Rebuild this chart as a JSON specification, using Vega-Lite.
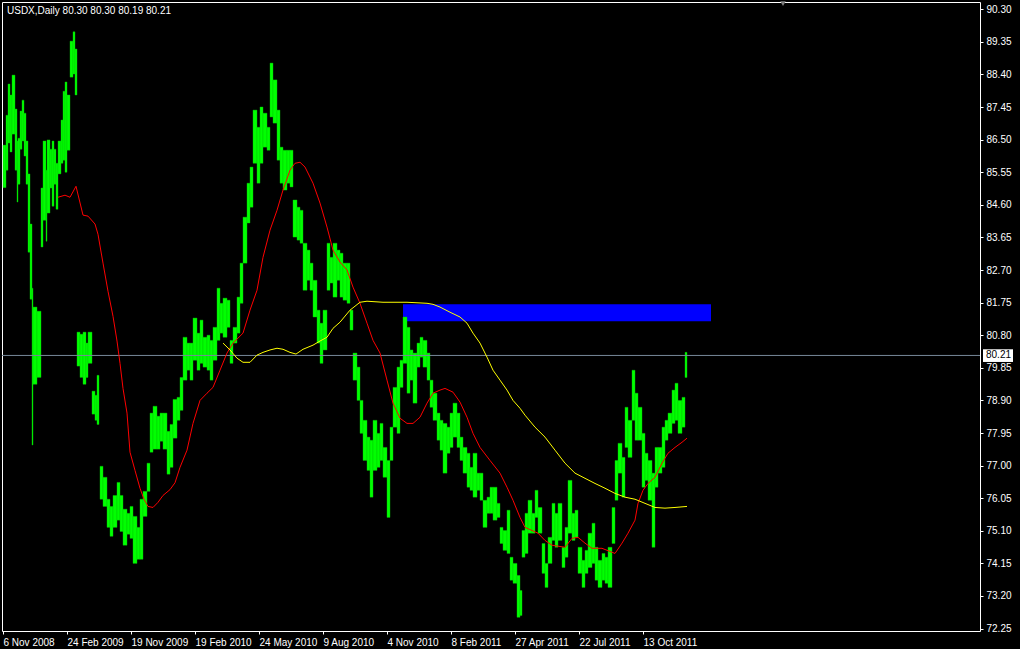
{
  "$schema": "https://vega.github.io/schema/vega-lite/v6.json",
  "autosize": {"type": "none"},
  "width": 978,
  "height": 629,
  "padding": {"left": 2, "top": 2, "right": 40, "bottom": 18},
  "background": "#000000",
  "config": {
    "view": {"stroke": "#ffffff", "strokeWidth": 1, "fill": "#000000"},
    "font": "Liberation Sans",
    "axis": {
      "labelOverlap": false, "labelFlush": false, "labelBound": false,
      "labelColor": "#ffffff", "labelFontSize": 10, "labelFont": "Liberation Sans",
      "tickColor": "#ffffff", "tickSize": 3, "tickWidth": 1,
      "domain": false, "grid": false, "title": null, "labelPadding": 3
    },
    "axisX": {"labelAlign": "left", "labelBaseline": "top"},
    "axisY": {"labelAlign": "left", "labelBaseline": "middle"}
  },
  "datasets": {
    "bars": [
      {"start":3,"end":6,"low":85.1,"high":86.34},{"start":6,"end":8,"low":85.61,"high":87.21},{"start":8,"end":10,"low":86.40,"high":88.12},{"start":10,"end":12,"low":86.14,"high":87.80},{"start":12,"end":15,"low":86.66,"high":88.38},{"start":15,"end":17,"low":85.61,"high":87.39},{"start":17,"end":18,"low":84.68,"high":86.46},{"start":18,"end":20,"low":85.20,"high":86.54},{"start":20,"end":22,"low":86.22,"high":87.33},{"start":22,"end":24,"low":86.46,"high":87.65},{"start":24,"end":26,"low":86.02,"high":87.27},{"start":26,"end":28,"low":85.20,"high":86.46},{"start":28,"end":30,"low":83.22,"high":85.50},{"start":30,"end":32,"low":81.85,"high":84.04},{"start":32,"end":33,"low":77.6,"high":82.17},{"start":33,"end":37,"low":79.37,"high":81.62},{"start":37,"end":41,"low":79.57,"high":81.50},{"start":41,"end":43,"low":83.37,"high":85.09},{"start":43,"end":46,"low":84.15,"high":86.46},{"start":46,"end":47,"low":83.54,"high":85.61},{"start":47,"end":50,"low":84.36,"high":86.49},{"start":50,"end":52,"low":85.09,"high":86.22},{"start":52,"end":54,"low":84.56,"high":86.46},{"start":54,"end":56,"low":85.20,"high":86.22},{"start":56,"end":58,"low":84.47,"high":85.81},{"start":58,"end":61,"low":85.50,"high":86.46},{"start":61,"end":63,"low":85.81,"high":87.07},{"start":63,"end":65,"low":85.90,"high":87.91},{"start":65,"end":67,"low":85.55,"high":88.18},{"start":67,"end":70,"low":86.19,"high":87.80},{"start":70,"end":73,"low":88.32,"high":89.37},{"start":73,"end":75,"low":88.41,"high":89.64},{"start":75,"end":77,"low":87.80,"high":89.14},
      {"start":77,"end":80,"low":79.90,"high":80.89},{"start":80,"end":83,"low":79.57,"high":80.83},{"start":83,"end":86,"low":79.37,"high":80.89},{"start":86,"end":88,"low":79.57,"high":80.57},{"start":88,"end":92,"low":79.98,"high":80.89},{"start":92,"end":95,"low":78.50,"high":79.17},{"start":95,"end":97,"low":78.32,"high":79.05},{"start":97,"end":99,"low":78.20,"high":79.63},
      {"start":100,"end":103,"low":76.02,"high":76.98},{"start":103,"end":107,"low":75.81,"high":76.66},{"start":107,"end":110,"low":75.20,"high":76.02},{"start":110,"end":113,"low":74.94,"high":75.81},{"start":113,"end":117,"low":75.20,"high":76.13},{"start":117,"end":120,"low":75.41,"high":76.51},{"start":120,"end":123,"low":75.08,"high":76.13},{"start":123,"end":127,"low":74.68,"high":75.73},{"start":127,"end":130,"low":75.00,"high":75.61},{"start":130,"end":133,"low":74.88,"high":75.81},{"start":133,"end":137,"low":74.15,"high":75.52},{"start":137,"end":140,"low":74.27,"high":75.20},{"start":140,"end":143,"low":74.27,"high":76.02},{"start":143,"end":147,"low":75.52,"high":76.25},{"start":147,"end":150,"low":76.25,"high":77.07},{"start":150,"end":153,"low":77.39,"high":78.53},{"start":153,"end":157,"low":77.48,"high":78.73},{"start":157,"end":160,"low":77.48,"high":78.44},{"start":160,"end":163,"low":77.71,"high":78.53},{"start":163,"end":167,"low":77.48,"high":78.53},{"start":167,"end":170,"low":76.75,"high":78.00},{"start":170,"end":173,"low":76.95,"high":78.20},{"start":173,"end":177,"low":77.80,"high":78.93},{"start":177,"end":180,"low":78.32,"high":78.99},{"start":180,"end":183,"low":78.61,"high":79.57},{"start":183,"end":187,"low":79.49,"high":80.74},{"start":187,"end":190,"low":79.78,"high":80.57},{"start":190,"end":193,"low":79.49,"high":80.57},{"start":193,"end":197,"low":80.07,"high":81.30},{"start":197,"end":200,"low":79.78,"high":80.86},{"start":200,"end":203,"low":79.98,"high":81.24},{"start":203,"end":207,"low":79.87,"high":80.74},{"start":207,"end":210,"low":79.78,"high":80.80},{"start":210,"end":213,"low":79.49,"high":80.65},{"start":213,"end":217,"low":80.07,"high":81.03},{"start":217,"end":220,"low":80.65,"high":82.17},{"start":220,"end":223,"low":80.86,"high":81.73},{"start":223,"end":227,"low":80.74,"high":81.88},{"start":227,"end":230,"low":81.03,"high":81.82},{"start":230,"end":233,"low":79.98,"high":80.65},{"start":233,"end":237,"low":80.57,"high":81.03},{"start":237,"end":240,"low":80.86,"high":81.91},{"start":240,"end":243,"low":81.73,"high":82.90},{"start":243,"end":247,"low":82.90,"high":84.24},{"start":247,"end":250,"low":84.07,"high":85.23},{"start":250,"end":253,"low":84.53,"high":85.70},{"start":253,"end":257,"low":85.81,"high":87.36},{"start":257,"end":260,"low":85.23,"high":86.86},{"start":260,"end":263,"low":85.81,"high":87.45},{"start":263,"end":267,"low":86.28,"high":87.27},{"start":267,"end":270,"low":86.19,"high":86.86},{"start":270,"end":273,"low":87.16,"high":88.73},{"start":273,"end":277,"low":86.98,"high":88.24},{"start":277,"end":280,"low":85.90,"high":87.36},{"start":280,"end":283,"low":85.23,"high":86.28},{"start":283,"end":287,"low":85.03,"high":86.19},{"start":287,"end":290,"low":85.23,"high":86.19},{"start":290,"end":293,"low":85.12,"high":86.19},{"start":293,"end":297,"low":83.66,"high":84.74},{"start":297,"end":300,"low":83.57,"high":84.53},{"start":300,"end":303,"low":83.48,"high":84.44},{"start":303,"end":307,"low":82.11,"high":83.48},{"start":307,"end":310,"low":82.40,"high":83.28},{"start":310,"end":313,"low":82.11,"high":82.90},{"start":313,"end":317,"low":81.33,"high":82.40},{"start":317,"end":320,"low":80.57,"high":81.53},{"start":320,"end":323,"low":79.98,"high":81.15},{"start":323,"end":327,"low":80.37,"high":81.53},{"start":327,"end":330,"low":82.11,"high":83.48},{"start":330,"end":333,"low":82.32,"high":83.07},{"start":333,"end":337,"low":81.91,"high":83.48},{"start":337,"end":340,"low":82.40,"high":83.28},{"start":340,"end":343,"low":81.91,"high":83.19},{"start":343,"end":347,"low":81.82,"high":82.90},{"start":347,"end":350,"low":81.73,"high":82.90},{"start":350,"end":353,"low":80.95,"high":81.53},{"start":353,"end":357,"low":79.49,"high":80.28},{"start":357,"end":360,"low":78.90,"high":79.87},{"start":360,"end":363,"low":77.94,"high":78.90},{"start":363,"end":367,"low":77.15,"high":78.32},{"start":367,"end":370,"low":76.86,"high":77.83},{"start":370,"end":373,"low":76.08,"high":77.74},{"start":373,"end":377,"low":76.86,"high":78.32},{"start":377,"end":380,"low":76.95,"high":77.94},{"start":380,"end":383,"low":77.15,"high":78.23},{"start":383,"end":387,"low":76.66,"high":77.53},{"start":387,"end":390,"low":75.49,"high":77.15},{"start":390,"end":393,"low":77.15,"high":78.12},{"start":393,"end":397,"low":78.12,"high":79.28},{"start":397,"end":400,"low":77.94,"high":79.87},{"start":400,"end":403,"low":79.28,"high":80.07},{"start":403,"end":407,"low":79.98,"high":81.33},{"start":407,"end":410,"low":79.11,"high":81.03},{"start":410,"end":413,"low":79.49,"high":80.37},{"start":413,"end":417,"low":78.82,"high":80.28},{"start":417,"end":420,"low":79.87,"high":80.57},{"start":420,"end":423,"low":80.16,"high":80.74},{"start":423,"end":427,"low":79.87,"high":80.65},{"start":427,"end":430,"low":79.49,"high":80.28},{"start":430,"end":433,"low":78.70,"high":79.49},{"start":433,"end":437,"low":78.32,"high":79.11},{"start":437,"end":440,"low":77.74,"high":78.53},{"start":440,"end":443,"low":77.45,"high":78.32},{"start":443,"end":447,"low":76.78,"high":78.23},{"start":447,"end":450,"low":77.36,"high":78.12},{"start":450,"end":453,"low":77.53,"high":78.53},{"start":453,"end":457,"low":77.83,"high":78.82},{"start":457,"end":460,"low":77.53,"high":78.53},{"start":460,"end":463,"low":77.15,"high":77.83},{"start":463,"end":467,"low":76.78,"high":77.53},{"start":467,"end":470,"low":76.37,"high":77.36},{"start":470,"end":473,"low":76.28,"high":76.95},{"start":473,"end":477,"low":76.08,"high":77.36},{"start":477,"end":480,"low":76.28,"high":76.78},{"start":480,"end":483,"low":75.99,"high":76.78},{"start":483,"end":487,"low":75.20,"high":75.99},{"start":487,"end":490,"low":75.61,"high":76.08},{"start":490,"end":493,"low":75.61,"high":76.37},{"start":493,"end":497,"low":75.41,"high":76.37},{"start":497,"end":500,"low":75.49,"high":75.90},{"start":500,"end":503,"low":74.73,"high":75.20},{"start":503,"end":507,"low":74.53,"high":75.11},{"start":507,"end":510,"low":74.44,"high":75.70},{"start":510,"end":513,"low":73.66,"high":74.33},{"start":513,"end":517,"low":73.57,"high":74.15},{"start":517,"end":520,"low":72.58,"high":73.80},{"start":520,"end":522,"low":72.63,"high":73.36},{"start":522,"end":525,"low":74.33,"high":75.11},{"start":525,"end":528,"low":74.44,"high":75.61},{"start":528,"end":532,"low":75.03,"high":75.99},{"start":532,"end":535,"low":75.03,"high":75.61},{"start":535,"end":538,"low":75.49,"high":76.28},{"start":538,"end":542,"low":75.03,"high":75.78},{"start":542,"end":545,"low":73.86,"high":74.73},{"start":545,"end":548,"low":73.45,"high":74.15},{"start":548,"end":552,"low":74.15,"high":74.91},{"start":552,"end":555,"low":74.82,"high":75.90},{"start":555,"end":558,"low":74.62,"high":75.61},{"start":558,"end":562,"low":74.82,"high":75.90},{"start":562,"end":565,"low":74.03,"high":74.62},{"start":565,"end":568,"low":74.33,"high":75.20},{"start":568,"end":572,"low":75.03,"high":76.57},{"start":572,"end":575,"low":74.82,"high":75.61},{"start":575,"end":578,"low":74.91,"high":75.70},{"start":578,"end":582,"low":73.86,"high":74.62},{"start":582,"end":585,"low":73.45,"high":74.24},{"start":585,"end":588,"low":73.86,"high":74.53},{"start":588,"end":592,"low":74.03,"high":75.03},{"start":592,"end":595,"low":74.15,"high":75.32},{"start":595,"end":598,"low":73.66,"high":74.62},{"start":598,"end":602,"low":73.45,"high":74.24},{"start":602,"end":605,"low":73.66,"high":74.44},{"start":605,"end":608,"low":73.57,"high":74.33},{"start":608,"end":612,"low":73.45,"high":74.62},{"start":612,"end":615,"low":74.73,"high":75.78},{"start":615,"end":618,"low":75.99,"high":77.15},{"start":618,"end":622,"low":76.78,"high":77.65},{"start":622,"end":625,"low":76.08,"high":77.24},{"start":625,"end":628,"low":77.53,"high":78.70},{"start":628,"end":632,"low":77.24,"high":78.32},{"start":632,"end":635,"low":78.32,"high":79.78},{"start":635,"end":638,"low":77.74,"high":79.11},{"start":638,"end":642,"low":77.74,"high":78.70},{"start":642,"end":645,"low":76.37,"high":77.94},{"start":645,"end":648,"low":76.57,"high":77.36},{"start":648,"end":652,"low":75.99,"high":77.15},{"start":652,"end":655,"low":74.62,"high":76.78},{"start":655,"end":658,"low":76.37,"high":77.53},{"start":658,"end":662,"low":76.78,"high":77.53},{"start":662,"end":665,"low":76.95,"high":78.12},{"start":665,"end":668,"low":77.74,"high":78.32},{"start":668,"end":672,"low":77.94,"high":78.53},{"start":672,"end":675,"low":78.23,"high":79.20},{"start":675,"end":678,"low":78.32,"high":79.40},{"start":678,"end":682,"low":77.94,"high":78.90},{"start":682,"end":685,"low":78.12,"high":78.99},{"start":685,"end":687,"low":79.57,"high":80.30}
    ],
    "red": [
      {"bar":58,"ma":84.82},{"bar":65,"ma":84.88},{"bar":70,"ma":84.82},{"bar":76,"ma":85.14},{"bar":83,"ma":84.30},{"bar":88,"ma":84.27},{"bar":95,"ma":84.04},{"bar":98,"ma":83.74},{"bar":103,"ma":82.90},{"bar":108,"ma":82.08},{"bar":113,"ma":81.35},{"bar":117,"ma":80.63},{"bar":120,"ma":79.98},{"bar":123,"ma":79.25},{"bar":127,"ma":78.53},{"bar":130,"ma":77.39},{"bar":135,"ma":76.86},{"bar":140,"ma":76.34},{"bar":144,"ma":76.02},{"bar":148,"ma":75.81},{"bar":153,"ma":75.78},{"bar":158,"ma":75.93},{"bar":163,"ma":76.13},{"bar":170,"ma":76.30},{"bar":175,"ma":76.50},{"bar":180,"ma":76.95},{"bar":187,"ma":77.45},{"bar":193,"ma":78.23},{"bar":200,"ma":78.90},{"bar":207,"ma":79.11},{"bar":213,"ma":79.28},{"bar":220,"ma":79.78},{"bar":227,"ma":80.28},{"bar":233,"ma":80.57},{"bar":243,"ma":80.86},{"bar":250,"ma":81.53},{"bar":257,"ma":82.11},{"bar":263,"ma":83.07},{"bar":270,"ma":83.86},{"bar":277,"ma":84.44},{"bar":283,"ma":85.03},{"bar":290,"ma":85.61},{"bar":295,"ma":85.81},{"bar":300,"ma":85.84},{"bar":305,"ma":85.70},{"bar":313,"ma":85.23},{"bar":320,"ma":84.65},{"bar":327,"ma":83.95},{"bar":333,"ma":83.28},{"bar":340,"ma":82.93},{"bar":347,"ma":82.70},{"bar":353,"ma":82.20},{"bar":360,"ma":81.73},{"bar":367,"ma":81.15},{"bar":373,"ma":80.65},{"bar":380,"ma":80.28},{"bar":387,"ma":79.49},{"bar":393,"ma":78.82},{"bar":400,"ma":78.38},{"bar":407,"ma":78.23},{"bar":413,"ma":78.23},{"bar":420,"ma":78.41},{"bar":427,"ma":78.82},{"bar":433,"ma":79.11},{"bar":440,"ma":79.20},{"bar":445,"ma":79.25},{"bar":453,"ma":79.14},{"bar":460,"ma":78.85},{"bar":467,"ma":78.41},{"bar":473,"ma":77.94},{"bar":480,"ma":77.53},{"bar":490,"ma":77.15},{"bar":500,"ma":76.78},{"bar":507,"ma":76.37},{"bar":513,"ma":75.99},{"bar":520,"ma":75.49},{"bar":525,"ma":75.20},{"bar":532,"ma":75.11},{"bar":538,"ma":75.03},{"bar":545,"ma":74.82},{"bar":552,"ma":74.68},{"bar":565,"ma":74.62},{"bar":572,"ma":74.88},{"bar":578,"ma":74.91},{"bar":585,"ma":74.74},{"bar":592,"ma":74.59},{"bar":602,"ma":74.59},{"bar":615,"ma":74.44},{"bar":622,"ma":74.74},{"bar":628,"ma":75.03},{"bar":635,"ma":75.41},{"bar":638,"ma":75.90},{"bar":643,"ma":76.28},{"bar":648,"ma":76.48},{"bar":655,"ma":76.66},{"bar":662,"ma":77.07},{"bar":668,"ma":77.36},{"bar":675,"ma":77.53},{"bar":682,"ma":77.68},{"bar":687,"ma":77.80}
    ],
    "yellow": [
      {"bar":223,"ma":80.57},{"bar":230,"ma":80.37},{"bar":237,"ma":80.13},{"bar":243,"ma":80.01},{"bar":250,"ma":80.01},{"bar":257,"ma":80.22},{"bar":263,"ma":80.30},{"bar":270,"ma":80.37},{"bar":277,"ma":80.42},{"bar":283,"ma":80.39},{"bar":290,"ma":80.30},{"bar":296,"ma":80.25},{"bar":303,"ma":80.39},{"bar":313,"ma":80.51},{"bar":320,"ma":80.63},{"bar":327,"ma":80.74},{"bar":333,"ma":81.00},{"bar":340,"ma":81.18},{"bar":350,"ma":81.53},{"bar":360,"ma":81.76},{"bar":367,"ma":81.79},{"bar":383,"ma":81.76},{"bar":407,"ma":81.76},{"bar":427,"ma":81.73},{"bar":433,"ma":81.70},{"bar":440,"ma":81.62},{"bar":450,"ma":81.47},{"bar":460,"ma":81.33},{"bar":467,"ma":81.15},{"bar":473,"ma":80.86},{"bar":480,"ma":80.57},{"bar":487,"ma":80.16},{"bar":493,"ma":79.78},{"bar":500,"ma":79.49},{"bar":507,"ma":79.20},{"bar":513,"ma":78.90},{"bar":520,"ma":78.67},{"bar":525,"ma":78.47},{"bar":535,"ma":78.12},{"bar":545,"ma":77.83},{"bar":555,"ma":77.45},{"bar":565,"ma":77.07},{"bar":575,"ma":76.78},{"bar":585,"ma":76.63},{"bar":595,"ma":76.48},{"bar":605,"ma":76.34},{"bar":615,"ma":76.19},{"bar":625,"ma":76.08},{"bar":635,"ma":76.02},{"bar":645,"ma":75.90},{"bar":655,"ma":75.78},{"bar":665,"ma":75.76},{"bar":675,"ma":75.78},{"bar":687,"ma":75.81}
    ],
    "zone": [{"start":403,"end":711,"low":81.21,"high":81.70}]
  },
  "layer": [
    {
      "data": {"name": "zone"},
      "mark": {"type": "rect", "color": "#0000ff"},
      "encoding": {
        "x": {"field": "start", "type": "quantitative",
              "scale": {"domain": [2, 980], "nice": false, "zero": false},
              "axis": {
                "orient": "bottom", "values": [3, 67, 131, 195, 259, 323, 387, 451, 515, 579, 643],
                "tickCount": 40,
                "labelExpr": "['6 Nov 2008','24 Feb 2009','19 Nov 2009','19 Feb 2010','24 May 2010','9 Aug 2010','4 Nov 2010','8 Feb 2011','27 Apr 2011','22 Jul 2011','13 Oct 2011'][round((datum.value-3)/64)]",
                "labelOverlap": false
              }},
        "x2": {"field": "end"},
        "y": {"field": "low", "type": "quantitative",
              "scale": {"domain": [72.18, 90.51], "nice": false, "zero": false},
              "axis": {
                "orient": "right",
                "values": [72.25, 73.2, 74.15, 75.1, 76.05, 77.0, 77.95, 78.9, 79.85, 80.8, 81.75, 82.7, 83.65, 84.6, 85.55, 86.5, 87.45, 88.4, 89.35, 90.3],
                "tickCount": 40,
                "format": ".2f",
                "labelOverlap": false
              }},
        "y2": {"field": "high"}
      }
    },
    {
      "data": {"name": "bars"},
      "mark": {"type": "rect", "color": "#00ff00", "stroke": "#00c000", "strokeWidth": 0.4},
      "encoding": {
        "x": {"field": "start", "type": "quantitative"},
        "x2": {"field": "end"},
        "y": {"field": "low", "type": "quantitative"},
        "y2": {"field": "high"}
      }
    },
    {
      "data": {"values": [{}]},
      "mark": {"type": "rule", "color": "#778899", "strokeWidth": 1},
      "encoding": {
        "y": {"datum": 80.21, "type": "quantitative"}
      }
    },
    {
      "data": {"name": "red"},
      "mark": {"type": "line", "color": "#ff0000", "strokeWidth": 1},
      "encoding": {
        "x": {"field": "bar", "type": "quantitative"},
        "y": {"field": "ma", "type": "quantitative"}
      }
    },
    {
      "data": {"name": "yellow"},
      "mark": {"type": "line", "color": "#ffff00", "strokeWidth": 1},
      "encoding": {
        "x": {"field": "bar", "type": "quantitative"},
        "y": {"field": "ma", "type": "quantitative"}
      }
    },
    {
      "data": {"values": [{}]},
      "mark": {"type": "text", "align": "left", "baseline": "middle", "color": "#ffffff", "fontSize": 10, "font": "Liberation Sans"},
      "encoding": {
        "x": {"datum": 7, "type": "quantitative"},
        "y": {"datum": 90.26, "type": "quantitative"},
        "text": {"value": "USDX,Daily  80.30 80.30 80.19 80.21"}
      }
    },
    {
      "data": {"values": [{}]},
      "mark": {"type": "rect", "color": "#ffffff", "clip": false},
      "encoding": {
        "x": {"datum": 983, "type": "quantitative"},
        "x2": {"datum": 1013},
        "y": {"datum": 80.02, "type": "quantitative"},
        "y2": {"datum": 80.39}
      }
    },
    {
      "data": {"values": [{}]},
      "mark": {"type": "text", "align": "left", "baseline": "middle", "color": "#000000", "fontSize": 10, "font": "Liberation Sans"},
      "encoding": {
        "x": {"datum": 986, "type": "quantitative"},
        "y": {"datum": 80.21, "type": "quantitative"},
        "text": {"value": "80.21"}
      }
    },
    {
      "data": {"values": [{}]},
      "mark": {"type": "point", "shape": "triangle-down", "filled": true, "color": "#808080", "size": 30, "opacity": 1},
      "encoding": {
        "x": {"datum": 783, "type": "quantitative"},
        "y": {"datum": 90.46, "type": "quantitative"}
      }
    }
  ]
}
